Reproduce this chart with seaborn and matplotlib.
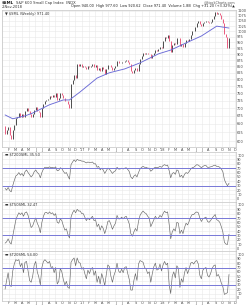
import numpy as np
import pandas as pd
import matplotlib
matplotlib.use("Agg")
import matplotlib.pyplot as plt
import seaborn as sns

sns.set_theme(style="white")
plt.rcParams['font.family'] = ['DejaVu Sans']

# ---------------- data ----------------
week_start = "2016-01-15"
week_end = "2018-11-02"
first_open = 645

closes = [
    621, 632, 640, 618, 605, 632, 648, 668, 672, 683,
    672, 682, 672, 692, 700, 690, 680, 672, 680, 695,
    703, 692, 688, 672, 700, 715, 724, 726, 730, 742,
    738, 744, 738, 752, 728, 732, 750, 745, 732, 722,
    725, 712, 700, 782, 798, 818, 806, 858, 852, 858,
    848, 852, 846, 838, 850, 846, 852, 858, 848, 855,
    836, 845, 830, 846, 838, 822, 840, 856, 855, 846,
    835, 845, 852, 872, 862, 864, 868, 866, 872, 874,
    866, 858, 830, 824, 834, 842, 832, 860, 880, 892,
    905, 902, 904, 900, 902, 885, 895, 905, 918, 915,
    920, 932, 925, 955, 975, 972, 985, 955, 908, 940,
    948, 942, 972, 968, 935, 944, 930, 948, 960, 955,
    966, 985, 1000, 1002, 1022, 1042, 1048, 1036, 1025, 1040,
    1046, 1052, 1045, 1040, 1046, 1062, 1076, 1096, 1086, 1088,
    1080, 1062, 1040, 990, 975, 928, 971.4,
]

ma_dates = ["2016-01-15", "2016-02-19", "2016-04-15", "2016-05-20", "2016-08-05",
            "2016-10-07", "2016-11-04", "2016-12-23", "2017-03-10", "2017-05-05",
            "2017-07-14", "2017-09-22", "2017-12-15", "2018-02-09", "2018-04-20",
            "2018-06-29", "2018-09-07", "2018-11-02"]
ma_values = [678, 666, 675, 684, 711, 727, 727, 755, 805, 825,
             840, 864, 901, 917, 948, 979, 1025, 1016]

t200 = [
    24, 20, 26, 19, 16, 30, 42, 52, 55, 60,
    54, 58, 52, 62, 66, 60, 55, 50, 54, 62,
    66, 60, 57, 48, 60, 68, 72, 72, 71, 73,
    71, 72, 70, 73, 64, 65, 71, 69, 63, 58,
    60, 52, 45, 78, 84, 89, 85, 90, 88, 88,
    86, 86, 84, 82, 84, 83, 83, 84, 80, 80,
    72, 74, 66, 70, 66, 58, 64, 70, 68, 63,
    58, 62, 64, 72, 68, 68, 70, 68, 70, 71,
    67, 62, 50, 46, 52, 55, 50, 60, 68, 72,
    74, 72, 72, 70, 70, 63, 66, 70, 72, 71,
    72, 74, 72, 76, 78, 76, 77, 64, 48, 58,
    60, 56, 66, 64, 50, 54, 48, 56, 60, 58,
    62, 68, 71, 72, 75, 78, 77, 74, 71, 74,
    76, 76, 72, 72, 73, 74, 76, 77, 74, 74,
    72, 68, 62, 44, 36, 30, 35.5,
]

t50 = [
    12, 15, 22, 14, 10, 28, 45, 65, 75, 82,
    78, 82, 74, 82, 84, 76, 62, 48, 52, 62,
    70, 58, 50, 36, 60, 74, 82, 83, 80, 84,
    80, 82, 76, 80, 60, 58, 68, 64, 52, 42,
    45, 32, 24, 72, 82, 88, 82, 90, 86, 86,
    80, 80, 72, 64, 70, 66, 70, 74, 64, 66,
    50, 56, 42, 52, 46, 34, 46, 62, 64, 55,
    44, 52, 58, 76, 68, 68, 72, 68, 72, 74,
    66, 56, 34, 28, 38, 46, 40, 62, 76, 82,
    86, 82, 80, 74, 70, 50, 58, 66, 74, 68,
    70, 76, 72, 80, 86, 82, 84, 55, 22, 38,
    45, 40, 60, 58, 34, 42, 34, 48, 58, 54,
    62, 72, 78, 78, 82, 84, 82, 70, 62, 68,
    70, 72, 62, 60, 64, 70, 74, 78, 66, 64,
    60, 50, 38, 14, 10, 9, 32.47,
]

t20 = [
    20, 40, 58, 30, 26, 62, 78, 88, 86, 88,
    72, 80, 58, 82, 84, 62, 40, 36, 50, 76,
    84, 60, 48, 30, 70, 84, 88, 84, 80, 84,
    70, 72, 58, 70, 32, 38, 68, 60, 42, 30,
    38, 24, 22, 82, 88, 92, 74, 92, 82, 80,
    66, 70, 56, 44, 64, 56, 66, 70, 52, 62,
    36, 50, 32, 56, 44, 28, 54, 76, 72, 50,
    36, 52, 62, 80, 62, 58, 66, 58, 70, 72,
    56, 42, 18, 18, 40, 56, 40, 78, 86, 84,
    82, 70, 66, 56, 60, 36, 56, 72, 80, 64,
    66, 78, 62, 76, 84, 76, 80, 30, 10, 50,
    60, 46, 74, 68, 24, 44, 36, 58, 70, 56,
    66, 80, 82, 78, 84, 86, 78, 52, 44, 64,
    68, 70, 52, 48, 56, 68, 74, 76, 50, 54,
    46, 34, 26, 8, 10, 12, 54,
]

price_ticks = [600, 625, 650, 675, 700, 725, 750, 775, 800, 825, 850, 875,
               900, 925, 950, 975, 1000, 1025, 1050, 1075, 1100]
osc_ticks = [0, 10, 20, 30, 40, 50, 60, 70, 80, 90, 100]
month_labels = ["", "F", "M", "A", "M", "J", "J", "A", "S", "O", "N", "D",
                "'17", "F", "M", "A", "M", "J", "J", "A", "S", "O", "N", "D",
                "'18", "F", "M", "A", "M", "J", "J", "A", "S", "O", "N", "D"]

panel_names = ["$T200SML", "$T50SML", "$T20SML"]
panel_last = ["35.50", "32.47", "54.00"]

# ---------------- figure ----------------
dates = pd.date_range(week_start, week_end, freq="W-FRI")
month_starts = pd.date_range("2016-01-01", "2018-12-01", freq="MS")

fig = plt.figure(figsize=(2.5, 3.05), dpi=100, facecolor="white")
L, W = 2 / 250, 234 / 250


def fy(px):
    return 1 - px / 305


ax0 = fig.add_axes([L, fy(147), W, (147 - 10) / 305])
ax1 = fig.add_axes([L, fy(201.5), W, 50 / 305])
ax2 = fig.add_axes([L, fy(251), W, 49.5 / 305])
ax3 = fig.add_axes([L, fy(300.5), W, 49.5 / 305])
axes = [ax0, ax1, ax2, ax3]

# price bars: open = previous close
c = np.array(closes, dtype=float)
o = np.array([first_open] + closes[:-1], dtype=float)
up = c >= o
ax0.vlines(dates[up], o[up], c[up], color="#303030", lw=0.6)
ax0.vlines(dates[~up], c[~up], o[~up], color="#e8406a", lw=0.6)

sns.lineplot(x=pd.to_datetime(ma_dates), y=ma_values, ax=ax0,
             color="#6a6ad6", lw=0.65)

ax0.set_yscale("log")
ax0.set_ylim(584, 1105)
ax0.set_yticks(price_ticks)
ax0.set_yticklabels([str(t) for t in price_ticks])
ax0.yaxis.set_minor_locator(matplotlib.ticker.NullLocator())

for ax, vals in zip([ax1, ax2, ax3], [t200, t50, t20]):
    sns.lineplot(x=dates, y=vals, ax=ax, color="#666666", lw=0.45)
    ax.axhline(70, color="#7878d8", lw=0.7)
    ax.axhline(30, color="#7878d8", lw=0.7)
    ax.set_ylim(-6, 108)
    ax.set_yticks(osc_ticks)
    ax.set_yticklabels([str(t) for t in osc_ticks])

for ax in axes:
    ax.set_xlim(pd.Timestamp("2016-01-01"), pd.Timestamp("2018-12-04"))
    ax.set_xticks(month_starts)
    ax.set_xticklabels(month_labels)
    ax.grid(True, color="#e8e8e8", lw=0.4)
    ax.set_axisbelow(True)
    ax.yaxis.tick_right()
    ax.tick_params(length=0, labelsize=2.5, pad=0.8, colors="#444444")
    ax.set_xlabel("")
    ax.set_ylabel("")
    for s in ax.spines.values():
        s.set_color("#c4c4c4")
        s.set_linewidth(0.5)

ax1.tick_params(labelbottom=False)
ax2.tick_params(labelbottom=False)
ax0.tick_params(axis="x", pad=0.4)
ax3.tick_params(axis="x", pad=0.6)

# legends inside panels
ax0.text(0.012, 0.985, "\u25bc $SML (Weekly) 971.40", transform=ax0.transAxes,
         va="top", ha="left", fontsize=2.6, color="#333333", parse_math=False)
for ax, nm, lv in zip([ax1, ax2, ax3], panel_names, panel_last):
    ax.text(0.012, 0.975, "\u25ac " + nm + " " + lv, transform=ax.transAxes,
            va="top", ha="left", fontsize=2.6, color="#333333", parse_math=False)

# header
fig.text(0.008, fy(0.6), "$SML", fontsize=2.9, weight="bold", va="top",
         ha="left", color="#222222", parse_math=False)
fig.text(0.066, fy(0.6), "S&P 600 Small Cap Index  INDX", fontsize=2.7,
         va="top", ha="left", color="#333333", parse_math=False)
fig.text(0.008, fy(4.6), "2-Nov-2018", fontsize=2.6, va="top", ha="left",
         color="#333333")
fig.text(0.94, fy(0.4), "@StockCharts.com", fontsize=2.4, va="top", ha="right",
         color="#555555")
fig.text(0.94, fy(4.4),
         "Open 940.00  High 977.60  Low 920.62  Close 971.40  Volume 1.8B  Chg +31.20 (+3.32%)\u25b2",
         fontsize=2.5, va="top", ha="right", color="#222222")

fig.savefig("out.png", dpi=100, facecolor="white")
